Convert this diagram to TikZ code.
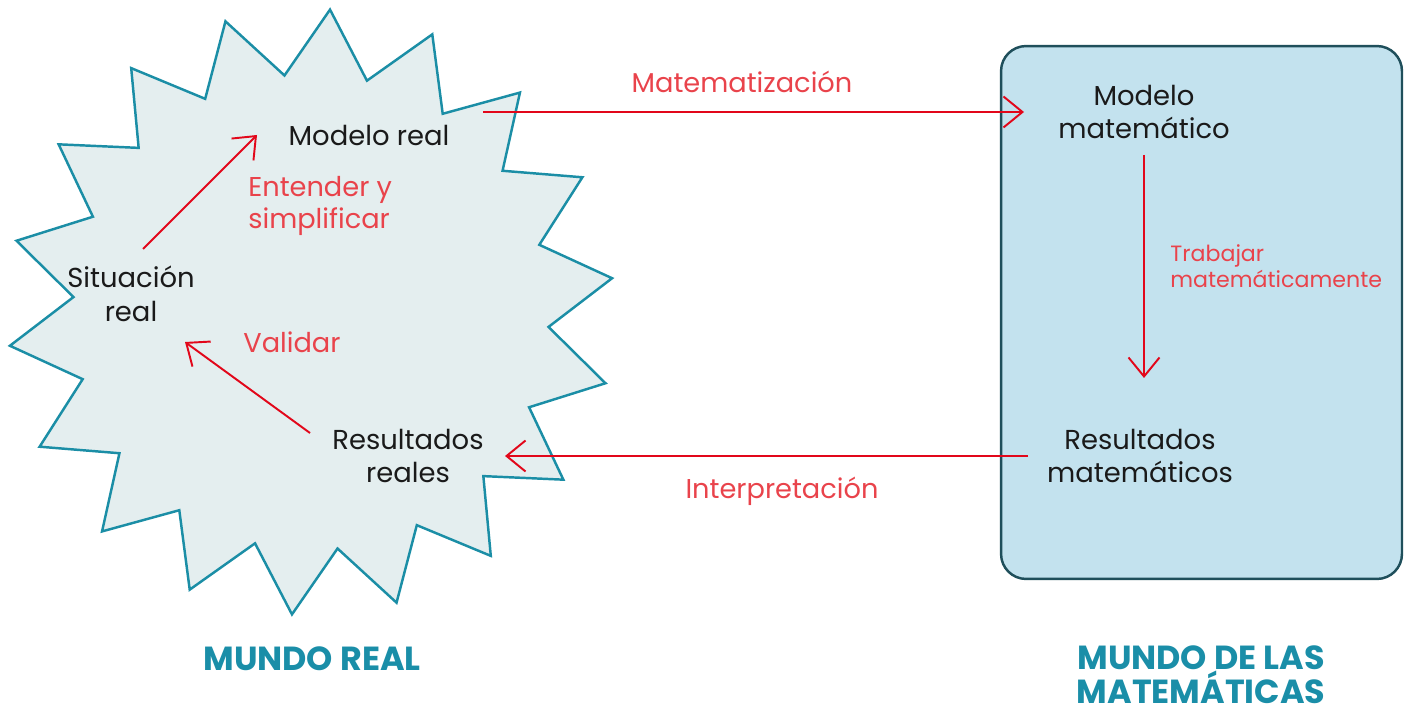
\documentclass[tikz,border=0pt]{standalone}
\usepackage{fontspec}
\setmainfont{Poppins}
\usetikzlibrary{arrows.meta}

\definecolor{ink}{HTML}{1A1A1A}
\definecolor{labred}{HTML}{E9434B}
\definecolor{arrred}{HTML}{E2071A}
\definecolor{starfill}{HTML}{E4EEEF}
\definecolor{starline}{HTML}{1B8EA6}
\definecolor{boxfill}{HTML}{C3E2EE}
\definecolor{boxline}{HTML}{1F4F5B}
\definecolor{ttlteal}{HTML}{1A8EA8}

\begin{document}
\begin{tikzpicture}[
  x=0.02cm, y=-0.02cm,
  txt/.style={align=center, inner sep=0pt, text=ink, font=\fontsize{15.6}{19}\selectfont},
  lab/.style={align=left, inner sep=0pt, text=labred, font=\fontsize{15.5}{18.5}\selectfont},
  slab/.style={lab, font=\fontsize{12.6}{15}\selectfont},
  ttl/.style={align=center, inner sep=0pt, text=ttlteal, font=\fontsize{19}{19.4}\selectfont\bfseries},
  realzone/.style={draw=starline, fill=starfill, line width=1.4pt, line join=miter},
  mathbox/.style={draw=boxline, fill=boxfill, line width=1.4pt, rounded corners=0.5cm,
    minimum width=8.02cm, minimum height=10.66cm},
  arrow/.style={-{Straight Barb[length=3.8mm, width=6.2mm]}, line width=1.1pt, draw=arrred}
]
  \useasboundingbox (0,0) rectangle (1408,712);

  % real world: star
  \draw[realzone] ([shift={(-86.4:303)}]311,312)
    \foreach \i in {1,...,35} { -- ([shift={(-86.4-10*\i:{303-65*mod(\i,2)})}]311,312) } -- cycle;

  % world of maths: box
  \node[mathbox] (matzone) at (1201.5,312.5) {};

  \node[txt] (sitreal) at (131,294) {Situación\\ real};
  \node[txt] (modreal) at (369,135) {Modelo real};
  \node[txt] (resreal) at (408,456) {Resultados\\ reales};
  \node[txt] (modmat) at (1144,112) {Modelo\\ matemático};
  \node[txt] (resmat) at (1140,456) {Resultados\\ matemáticos};

  \draw[arrow] ([shift={(12,-45)}]sitreal.center) -- ([shift={(-112,0)}]modreal.center);
  \draw[arrow] ([shift={(-98,-23)}]resreal.center) -- ([shift={(54,48)}]sitreal.center);
  \draw[arrow] ([shift={(114,-23)}]modreal.center) -- ([shift={(-120,0)}]modmat.center);
  \draw[arrow] ([shift={(0,43)}]modmat.center) -- ([shift={(4,-78)}]resmat.center);
  \draw[arrow] ([shift={(-112,0)}]resmat.center) -- ([shift={(97,0)}]resreal.center);

  \node[lab, anchor=west] (entender) at (248,206) {Entender y\\ simplificar};
  \node[lab, anchor=west] (validar) at (243,342) {Validar};
  \node[lab] (matemat) at (742,82) {Matematización};
  \node[slab, anchor=west] (trabajar) at (1170,266) {Trabajar\\ matemáticamente};
  \node[lab] (interp) at (782,491) {Interpretación};

  \node[ttl] (mreal) at (312,659) {MUNDO REAL};
  \node[ttl] (mmat) at (1201,675) {MUNDO DE LAS\\ MATEMÁTICAS};
\end{tikzpicture}
\end{document}
